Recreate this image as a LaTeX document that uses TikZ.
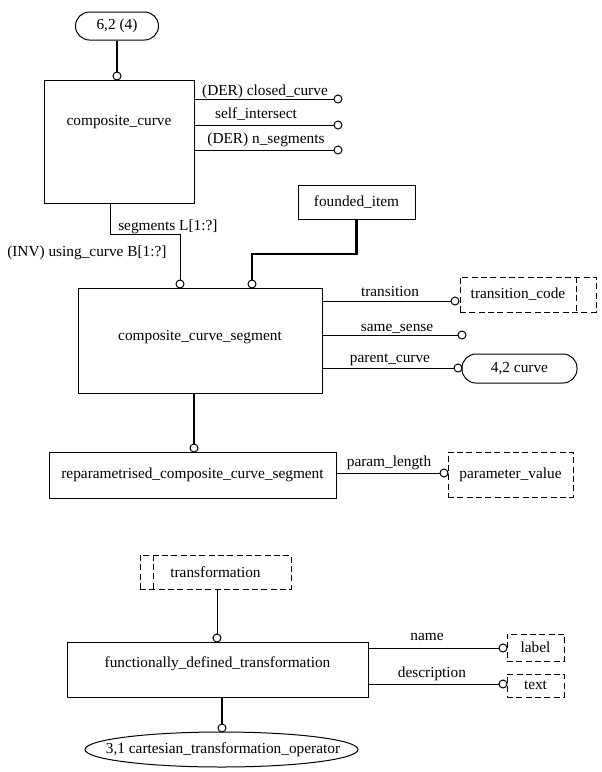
\documentclass[tikz,border=0pt]{standalone}
\usepackage{fontspec}
\setmainfont{Liberation Serif}
\usetikzlibrary{shapes.geometric}
\begin{document}
\begin{tikzpicture}[x=0.75pt,y=-0.75pt,
  every node/.style={font=\fontsize{11.5}{13}\selectfont},
  bx/.style 2 args={draw, line width=0.75pt, minimum width=#1*0.75pt, minimum height=#2*0.75pt, inner sep=0pt},
  dsh/.style={line width=0.75pt, dash pattern=on 4.5pt off 2.5pt},
  dbx/.style 2 args={bx={#1}{#2}, dsh},
  rbx/.style 2 args={bx={#1}{#2}, rounded corners=10.5pt},
  ell/.style 2 args={draw, ellipse, line width=0.75pt, minimum width=#1*0.75pt, minimum height=#2*0.75pt, inner sep=0pt},
  circ/.style={draw, circle, minimum size=6pt, inner sep=0pt, line width=0.75pt, fill=white},
  lbl/.style={anchor=base, inner sep=0pt},
  conn/.style={line width=0.75pt},
  tconn/.style={line width=1.6pt}]
\useasboundingbox (0,0) rectangle (602,772);

% top
\node[rbx={83}{28}] (n62) at (117,26) {6,2 (4)};
\node[circ] (c1) at (117,76) {};
\draw[tconn] (n62) -- (c1);
\node[bx={150}{123}] (cc) at (119,141.5) {};
\node (cct) at (119,122) {composite\_curve};
\node[circ] (c2) at (338,99) {};
\node[circ] (c3) at (338,125) {};
\node[circ] (c4) at (338,150) {};
\draw[conn] (cc.east |- c2) -- (c2);
\draw[conn] (cc.east |- c3) -- (c3);
\draw[conn] (cc.east |- c4) -- (c4);
\node[lbl] (l2) at (265,95) {(DER) closed\_curve};
\node[lbl] (l3) at (256,118) {self\_intersect};
\node[lbl] (l4) at (266,143) {(DER) n\_segments};

% composite_curve_segment
\node[bx={117}{34}] (fi) at (356.5,202) {founded\_item};
\coordinate (s1) at (110,203);
\node[circ] (c5) at (180,284) {};
\node[circ] (c6) at (252,284) {};
\draw[conn] (s1) -- (s1 |- 0,234) -| (c5);
\draw[tconn] (fi.south) -- (fi.south |- 0,254) -| (c6);
\node[lbl, anchor=base west] (l5) at (118,230) {segments L[1:?]};
\node[lbl, anchor=base west] (l6) at (7,256) {(INV) using\_curve B[1:?]};

\node[bx={244}{105}] (ccs) at (200,340.5) {};
\node (ccst) at (200,337) {composite\_curve\_segment};
\node[circ] (c7) at (455,301) {};
\node[circ] (c8) at (462,335) {};
\node[circ] (c9) at (458,368) {};
\draw[conn] (ccs.east |- c7) -- (c7);
\draw[conn] (ccs.east |- c8) -- (c8);
\draw[conn] (ccs.east |- c9) -- (c9);
\node[dbx={136}{35}] (tc) at (528,294.5) {};
\node (tct) at (518,294.5) {transition\_code};
\draw[dsh] (576,0 |- tc.north) -- (576,0 |- tc.south);
\node[rbx={115}{29}] (cv) at (519.5,368.5) {4,2 curve};
\node[lbl] (l7) at (390,296) {transition};
\node[lbl] (l8) at (397,331) {same\_sense};
\node[lbl] (l9) at (390,362) {parent\_curve};

% reparametrised
\coordinate (s2) at (194,393);
\node[circ] (c10) at (194,448) {};
\draw[tconn] (s2) -- (c10);
\node[bx={287}{46}] (rcs) at (192.5,475) {reparametrised\_composite\_curve\_segment};
\node[circ] (c11) at (444,473) {};
\draw[conn] (rcs.east |- c11) -- (c11);
\node[dbx={125}{45}] (pv) at (510.5,474.5) {parameter\_value};
\node[lbl] (l10) at (389,466) {param\_length};

% bottom
\node[dbx={151}{34}] (tf) at (215.5,572) {transformation};
\draw[dsh] (153,0 |- tf.north) -- (153,0 |- tf.south);
\node[circ] (c12) at (217,638) {};
\draw[conn] (c12 |- tf.south) -- (c12);
\node[bx={301}{55}] (fdt) at (217.5,669.5) {};
\node (fdtt) at (217.5,664) {functionally\_defined\_transformation};
\node[circ] (c13) at (503,648) {};
\node[circ] (c14) at (503,684) {};
\draw[conn] (fdt.east |- c13) -- (c13);
\draw[conn] (fdt.east |- c14) -- (c14);
\node[dbx={57}{27}] (lb) at (535.5,647.5) {label};
\node[dbx={57}{23}] (tx) at (535.5,685.5) {text};
\node[lbl] (l11) at (427,640) {name};
\node[lbl] (l12) at (432,677) {description};
\node[circ] (c15) at (222,728) {};
\draw[tconn] (c15 |- fdt.south) -- (c15);
\node[ell={273}{35}] (op) at (221.5,749.5) {};
\node (opt) at (223,749.5) {3,1 cartesian\_transformation\_operator};
\end{tikzpicture}
\end{document}
